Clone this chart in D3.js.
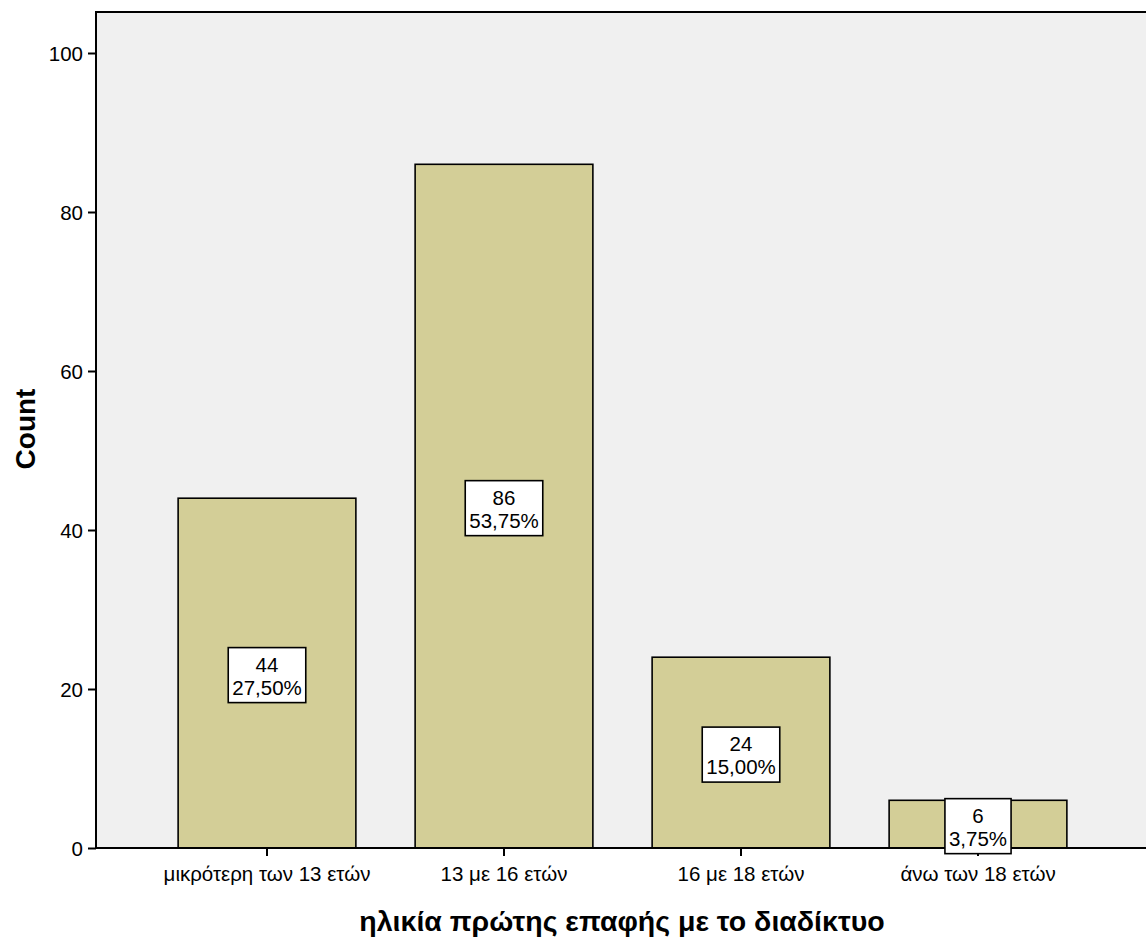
<!DOCTYPE html>
<html><head><meta charset="utf-8">
<script src="https://cdn.jsdelivr.net/npm/d3@7"></script>
<style>body{margin:0;background:#fff}svg{display:block}text{font-family:"Liberation Sans",Arial,sans-serif;fill:#000}</style>
</head><body>
<svg id="c" width="1146" height="938"></svg>
<script>
const categories = ["μικρότερη των 13 ετών","13 με 16 ετών","16 με 18 ετών","άνω των 18 ετών"];
const counts = [44, 86, 24, 6];
const percents = ["27,50%","53,75%","15,00%","3,75%"];
const yTicks = [0,20,40,60,80,100];
const xTitle = "ηλικία πρώτης επαφής με το διαδίκτυο";
const yTitle = "Count";

const svg = d3.select("#c");
const L = 96, R = 1146, T = 12, B = 848;
const y = d3.scaleLinear().domain([0,100]).range([B, 53]);
const x = d3.scaleBand().domain(categories).range([148.5, 1096.5]).paddingInner(0.25).paddingOuter(0.125);
const FS = 20.5;

svg.append("rect").attr("x",L).attr("y",T).attr("width",R-L+2).attr("height",B-T).attr("fill","#f0f0f0").attr("stroke","#000").attr("stroke-width",2);

svg.selectAll("rect.bar").data(counts).enter().append("rect").attr("class","bar")
  .attr("x",(d,i)=>x(categories[i])).attr("width",x.bandwidth())
  .attr("y",d=>y(d)).attr("height",d=>B-y(d))
  .attr("fill","#d3ce97").attr("stroke","#000").attr("stroke-width",1.6);

// axes
const ya = svg.append("g").attr("transform",`translate(${L},0)`)
  .call(d3.axisLeft(y).tickValues(yTicks).tickSize(8).tickPadding(5));
ya.select(".domain").remove();
ya.selectAll("line").attr("stroke","#000").attr("stroke-width",2);
ya.selectAll("text").attr("font-size",FS).attr("dy","0.35em").style("font-family","Liberation Sans, Arial, sans-serif");

const xa = svg.append("g").attr("transform",`translate(0,${B})`)
  .call(d3.axisBottom(x).tickSize(8).tickPadding(10));
xa.select(".domain").remove();
xa.selectAll("line").attr("stroke","#000").attr("stroke-width",2);
xa.selectAll("text").attr("font-size",FS).style("font-family","Liberation Sans, Arial, sans-serif");

svg.append("line").attr("x1",L).attr("x2",R).attr("y1",B).attr("y2",B).attr("stroke","#000").attr("stroke-width",2);
svg.append("line").attr("x1",L).attr("x2",L).attr("y1",T).attr("y2",B).attr("stroke","#000").attr("stroke-width",2);

// labels
const lg = svg.selectAll("g.lab").data(counts).enter().append("g").attr("class","lab")
  .attr("transform",(d,i)=>`translate(${x(categories[i])+x.bandwidth()/2},${y(d/2)+2})`);
lg.each(function(d,i){
  const g = d3.select(this);
  const t1 = g.append("text").attr("text-anchor","middle").attr("y",-3.5).attr("font-size",FS).text(d);
  const t2 = g.append("text").attr("text-anchor","middle").attr("y",19.5).attr("font-size",FS).text(percents[i]);
  const w = Math.max(t1.node().getComputedTextLength(), t2.node().getComputedTextLength()) + 8;
  g.insert("rect","text").attr("x",-w/2).attr("y",-27.5).attr("width",w).attr("height",55)
    .attr("fill","#fff").attr("stroke","#000").attr("stroke-width",1.6);
});

svg.append("text").attr("x",622).attr("y",931).attr("text-anchor","middle").attr("font-size",28.5).attr("font-weight","bold").text(xTitle);
svg.append("text").attr("transform","translate(35,429) rotate(-90)").attr("text-anchor","middle").attr("font-size",28).attr("font-weight","bold").text(yTitle);
</script></body></html>
